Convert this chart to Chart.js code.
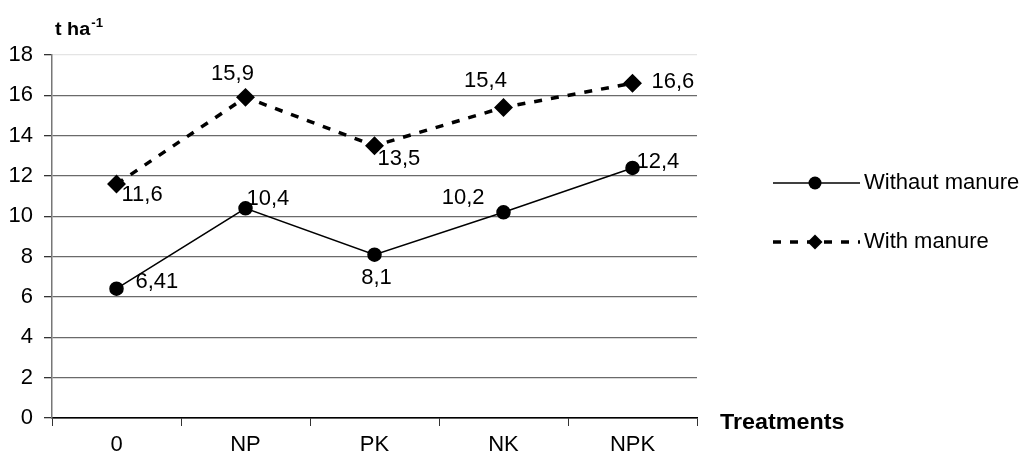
<!DOCTYPE html>
<html>
<head>
<meta charset="utf-8">
<script src="https://cdn.jsdelivr.net/npm/chart.js@4/dist/chart.umd.min.js"></script>
<style>
html,body{margin:0;padding:0;background:#fff;}
#wrap{width:1019px;height:457px;position:relative;}
</style>
</head>
<body>
<div id="wrap"><canvas id="c" width="1019" height="457"></canvas></div>
<script>
const categories = ['0', 'NP', 'PK', 'NK', 'NPK'];
const withoutManure = [6.41, 10.4, 8.1, 10.2, 12.4];
const withManure = [11.6, 15.9, 13.5, 15.4, 16.6];
const seriesNames = ['Withaut manure', 'With manure'];
const yTitle = 't ha';
const yTitleSup = '-1';
const xTitle = 'Treatments';

const FONT = '"Liberation Sans", Arial, sans-serif';

// label placement (style only)
const labelPlacement = [
  [{a:'left',dx:19,dy:-7},{a:'left',dx:1,dy:-9},{a:'center',dx:2,dy:23},{a:'right',dx:-19,dy:-14},{a:'left',dx:4,dy:-6}],
  [{a:'left',dx:5,dy:11},{a:'center',dx:-13,dy:-23},{a:'left',dx:3,dy:13},{a:'center',dx:-18,dy:-26},{a:'left',dx:19,dy:-1}]
];

const labelsPlugin = {
  id: 'valueLabels',
  afterDatasetsDraw(chart) {
    const ctx = chart.ctx;
    ctx.save();
    ctx.font = '22px ' + FONT;
    ctx.fillStyle = '#000';
    ctx.textBaseline = 'middle';
    chart.data.datasets.forEach((ds, di) => {
      const meta = chart.getDatasetMeta(di);
      meta.data.forEach((pt, i) => {
        const p = labelPlacement[di][i];
        ctx.textAlign = p.a;
        ctx.fillText(String(ds.data[i]).replace('.', ','), pt.x + p.dx, pt.y + p.dy);
      });
    });
    ctx.restore();
  }
};

const decorPlugin = {
  id: 'decor',
  afterDraw(chart) {
    const ctx = chart.ctx;
    const ca = chart.chartArea;
    ctx.save();
    ctx.fillStyle = '#000';
    ctx.textBaseline = 'alphabetic';
    ctx.textAlign = 'left';
    // y title
    ctx.save();
    ctx.translate(55, 35);
    ctx.scale(1.1, 1);
    ctx.font = 'bold 18px ' + FONT;
    ctx.fillText(yTitle, 0, 0);
    const w = ctx.measureText(yTitle).width;
    ctx.font = 'bold 12px ' + FONT;
    ctx.fillText(yTitleSup, w + 1, -8);
    ctx.restore();
    // x title
    ctx.save();
    ctx.translate(ca.right + 23, ca.bottom + 5);
    ctx.scale(1.06, 1);
    ctx.font = 'bold 22px ' + FONT;
    ctx.textBaseline = 'middle';
    ctx.fillText(xTitle, 0, 0);
    ctx.restore();
    // legend
    const rows = [183, 242];
    chart.data.datasets.forEach((ds, di) => {
      const y = rows[di];
      ctx.strokeStyle = '#000';
      ctx.lineWidth = ds.borderWidth;
      ctx.setLineDash(ds.borderDash || []);
      ctx.beginPath();
      ctx.moveTo(773, y);
      ctx.lineTo(860, y);
      ctx.stroke();
      ctx.setLineDash([]);
      ctx.fillStyle = '#000';
      ctx.beginPath();
      if (ds.pointStyle === 'circle') { ctx.arc(815, y, 6.5, 0, Math.PI * 2); }
      else { ctx.moveTo(815, y - 7.5); ctx.lineTo(822.5, y); ctx.lineTo(815, y + 7.5); ctx.lineTo(807.5, y); ctx.closePath(); }
      ctx.fill();
      ctx.font = '22px ' + FONT;
      ctx.textAlign = 'left';
      ctx.textBaseline = 'middle';
      ctx.fillText(seriesNames[di], 864, y);
    });
    ctx.restore();
  }
};

new Chart(document.getElementById('c'), {
  type: 'line',
  data: {
    labels: categories,
    datasets: [
      {
        label: seriesNames[0], data: withoutManure,
        borderColor: '#000', backgroundColor: '#000', borderWidth: 1.5,
        pointStyle: 'circle', pointRadius: 6.5, pointHoverRadius: 6.5,
        pointBackgroundColor: '#000', pointBorderColor: '#000', tension: 0
      },
      {
        label: seriesNames[1], data: withManure,
        borderColor: '#000', backgroundColor: '#000', borderWidth: 3.5, borderDash: [8, 9],
        pointStyle: 'rectRot', pointRadius: 7, pointHoverRadius: 7,
        pointBackgroundColor: '#000', pointBorderColor: '#000', tension: 0
      }
    ]
  },
  options: {
    responsive: false,
    animation: false,
    events: [],
    layout: { padding: { left: 0, top: 55, right: 322, bottom: 0 } },
    plugins: { legend: { display: false }, tooltip: { enabled: false } },
    scales: {
      x: {
        offset: true,
        grid: { offset: true, drawOnChartArea: false, drawTicks: true, tickLength: 8, color: '#000', tickColor: '#333' },
        border: { display: true, color: '#000', width: 1.5 },
        ticks: { color: '#000', font: { size: 22, family: FONT }, padding: 6, maxRotation: 0 },
        afterFit(s) { s.height = 39; }
      },
      y: {
        min: 0, max: 18,
        ticks: { stepSize: 2, color: '#000', font: { size: 22, family: FONT }, padding: 11 },
        grid: {
          color: (c) => c.tick && c.tick.value === 18 ? '#e4e4e4' : (c.tick && c.tick.value === 0 ? '#000' : '#6a6a6a'),
          tickColor: '#333', tickLength: 8, lineWidth: 1.3
        },
        border: { display: true, color: '#777', width: 1.5 },
        afterFit(s) { s.width = 52; }
      }
    }
  },
  plugins: [labelsPlugin, decorPlugin]
});
</script>
</body>
</html>
